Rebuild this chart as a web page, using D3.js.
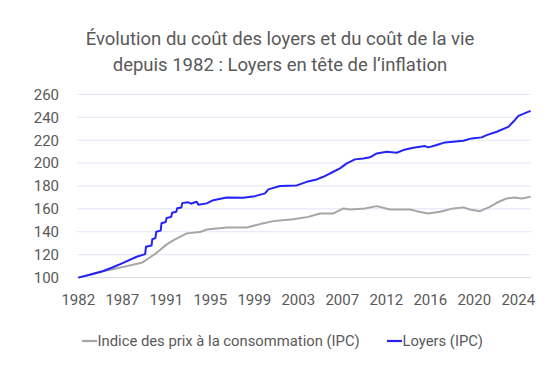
<!DOCTYPE html>
<html>
<head>
<meta charset="utf-8">
<script src="https://cdn.jsdelivr.net/npm/d3@7"></script>
<style>
  body { margin: 0; background: #fff; }
  svg { display: block; font-family: Roboto, "Open Sans", sans-serif; }
</style>
</head>
<body>
<div id="chart"></div>
<script>
// months since Dec 1982 expressed as decimal years
const loyersYears = [1982.92, 1984.0, 1985.29, 1986.2, 1987.06, 1988.45, 1989.25, 1989.33, 1989.85, 1989.93,
  1990.22, 1990.30, 1990.72, 1990.80, 1991.2, 1991.28, 1991.72, 1991.80, 1992.2, 1992.28,
  1992.68, 1992.76, 1993.3, 1993.6, 1993.9, 1994.13, 1994.3, 1995.08, 1995.70, 1996.97,
  1998.54, 1999.65, 2000.60, 2000.91, 2002.02, 2003.60, 2004.55, 2005.50, 2006.12, 2007.07,
  2007.70, 2008.34, 2009.12, 2009.91, 2010.54, 2011.18, 2012.12, 2013.07, 2013.70, 2014.64,
  2015.75, 2016.06, 2016.86, 2017.65, 2019.38, 2020.17, 2021.12, 2021.59, 2022.54, 2023.64,
  2024.11, 2024.59, 2025.75];
const loyersValues = [100, 102.5, 105.8, 109, 112.4, 118.2, 120.5, 127, 128, 133.5,
  134.5, 140, 141, 147.5, 148.5, 152, 153, 156.6, 157.5, 160.5,
  161.2, 165, 165.8, 164.5, 165.5, 166.2, 163.6, 164.8, 167.6, 170,
  169.7, 171.1, 173.5, 177, 179.9, 180.5, 183.6, 185.7, 188, 192.4,
  195.3, 199.7, 203.2, 204, 205, 208.4, 209.8, 209, 211.3, 213.3,
  214.8, 213.7, 215.7, 218, 219.4, 221.5, 222.4, 224.4, 227.3, 231.6,
  236, 241.2, 245.5];

const ipcYears = [1982.92, 1984.0, 1985.29, 1986.40, 1987.50, 1988.92, 1989.55, 1990.34, 1991.29, 1992.08,
  1993.19, 1994.44, 1995.08, 1996.97, 1998.87, 2000.13, 2001.39, 2003.28, 2004.70, 2005.81,
  2007.07, 2008.02, 2008.65, 2010.07, 2011.18, 2012.44, 2014.33, 2014.96, 2016.06, 2017.17,
  2018.43, 2019.38, 2020.01, 2020.96, 2021.90, 2022.54, 2023.49, 2024.27, 2024.91, 2025.75];
const ipcValues = [100, 102.5, 105.6, 107.7, 110, 112.9, 116.7, 121.6, 129, 133.3,
  138.6, 139.7, 142, 143.8, 143.8, 146.7, 149.3, 151, 153, 156,
  156, 160.4, 159.5, 160.4, 162.4, 159.5, 159.5, 158, 156, 157.4,
  160.4, 161.3, 159.5, 158, 161.8, 165.3, 169.1, 170, 169.1, 170.5];

const tickLabels = ["1982", "1987", "1991", "1995", "1999", "2003", "2007", "2012", "2016", "2020", "2024"];
const yTicks = [100, 120, 140, 160, 180, 200, 220, 240, 260];
const seriesNames = ["Indice des prix à la consommation (IPC)", "Loyers (IPC)"];
const titleLines = ["Évolution du coût des loyers et du coût de la vie", "depuis 1982 : Loyers en tête de l’inflation"];

const width = 560, height = 381;
const textColor = "#595959";

const svg = d3.select("#chart").append("svg")
  .attr("width", width).attr("height", height);

const x = d3.scaleLinear().domain([1982.92, 2025.75]).range([78.3, 530.6]);
const y = d3.scaleLinear().domain([100, 260]).range([277.6, 94.3]);

// gridlines
svg.append("g").selectAll("line").data(yTicks).join("line")
  .attr("x1", 77).attr("x2", 531)
  .attr("y1", d => y(d)).attr("y2", d => y(d))
  .attr("stroke", d => d === 100 ? "#d9d9e6" : "#e3e3f8")
  .attr("stroke-width", 1);

// y labels
svg.append("g").selectAll("text").data(yTicks).join("text")
  .attr("x", 59).attr("y", d => y(d))
  .attr("dy", "0.36em")
  .attr("text-anchor", "end")
  .attr("fill", textColor)
  .attr("font-size", 15)
  .text(d => d);

// x labels, one every 50 months
svg.append("g").selectAll("text").data(tickLabels).join("text")
  .attr("x", (d, i) => x(1982.92 + i * 50 / 12))
  .attr("y", 305)
  .attr("text-anchor", "middle")
  .attr("fill", textColor)
  .attr("font-size", 15)
  .text(d => d);

const line = d3.line().x(d => x(d[0])).y(d => y(d[1]));

svg.append("path")
  .datum(d3.zip(ipcYears, ipcValues))
  .attr("d", line)
  .attr("fill", "none")
  .attr("stroke", "#a6a6a6")
  .attr("stroke-width", 2)
  .attr("stroke-linejoin", "round");

svg.append("path")
  .datum(d3.zip(loyersYears, loyersValues))
  .attr("d", line)
  .attr("fill", "none")
  .attr("stroke", "#2323f5")
  .attr("stroke-width", 2)
  .attr("stroke-linejoin", "round");

// title
svg.append("g").selectAll("text").data(titleLines).join("text")
  .attr("x", 280).attr("y", (d, i) => 45 + i * 25.5)
  .attr("text-anchor", "middle")
  .attr("fill", textColor)
  .attr("font-size", 18.5)
  .text(d => d);

// legend
const legendItems = [
  { name: seriesNames[0], color: "#a6a6a6", x0: 82 },
  { name: seriesNames[1], color: "#2323f5", x0: 387 }
];
const lg = svg.append("g").selectAll("g").data(legendItems).join("g")
  .attr("transform", d => `translate(${d.x0},341)`);
lg.append("line").attr("x1", 0).attr("x2", 15)
  .attr("stroke", d => d.color).attr("stroke-width", 2.2);
lg.append("text").attr("x", 15.5).attr("dy", "0.36em")
  .attr("fill", textColor).attr("font-size", 14.8)
  .text(d => d.name);
</script>
</body>
</html>
